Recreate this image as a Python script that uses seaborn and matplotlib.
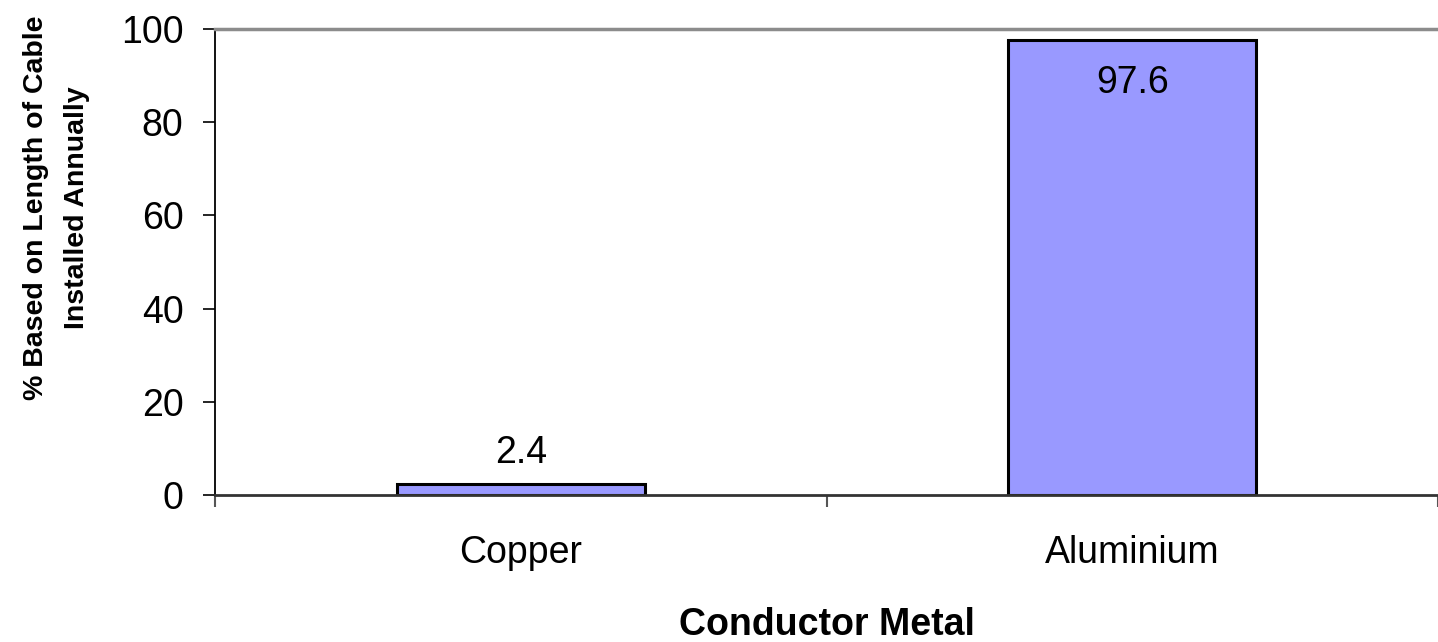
import matplotlib
matplotlib.use("Agg")
import matplotlib.pyplot as plt
from matplotlib.ticker import FixedLocator
import pandas as pd
import seaborn as sns

# Share of underground cable length installed each year, by conductor metal
metals = ["Copper", "Aluminium"]
shares = [2.4, 97.6]
y_ticks = [0, 20, 40, 60, 80, 100]

sns.set_style("white")
plt.rcParams["font.family"] = ["Liberation Sans", "DejaVu Sans"]
plt.rcParams["text.color"] = "black"
plt.rcParams["axes.labelcolor"] = "black"
plt.rcParams["xtick.color"] = "black"
plt.rcParams["ytick.color"] = "black"

df = pd.DataFrame({"metal": metals, "share": shares})

fig = plt.figure(figsize=(14.38, 6.42), dpi=100)
ax = fig.add_axes([215 / 1438, 1 - 495 / 642, 1 - 215 / 1438, (495 - 29) / 642])

sns.barplot(data=df, x="metal", y="share", ax=ax, color="#9999FF", saturation=1,
            edgecolor="black", linewidth=2.2, width=0.405, errorbar=None)

ax.set_xlim(-0.5, 1.5)
ax.set_ylim(0, 100)
ax.set_yticks(y_ticks)
ax.set_yticklabels([str(t) for t in y_ticks])

# value labels: above the short bar, just inside the top of the tall one
for i, v in enumerate(shares):
    if v > 50:
        ax.annotate(f"{v:.1f}", (i, v), xytext=(0, -38), textcoords="offset points",
                    ha="center", va="baseline", fontsize=27, color="black")
    else:
        ax.annotate(f"{v:.1f}", (i, v), xytext=(0, 15), textcoords="offset points",
                    ha="center", va="baseline", fontsize=27, color="black")

# spines
ax.spines["right"].set_visible(False)
ax.spines["left"].set_color("black")
ax.spines["left"].set_linewidth(1.3)
ax.spines["bottom"].set_color("#333333")
ax.spines["bottom"].set_linewidth(2.0)
ax.spines["top"].set_color("#8c8c8c")
ax.spines["top"].set_linewidth(2.5)

# ticks
ax.tick_params(axis="y", which="major", direction="out", length=8.6, width=1.2,
               color="black", labelcolor="black", labelsize=27, pad=14, left=True)
ax.tick_params(axis="x", which="major", length=0, labelsize=27, labelcolor="black", pad=29)
ax.xaxis.set_minor_locator(FixedLocator([-0.5, 0.5, 1.5]))
ax.tick_params(axis="x", which="minor", direction="out", length=8.6, width=1.5,
               color="#555555", bottom=True)

ax.set_xlabel("Conductor Metal", fontsize=27, fontweight="bold", color="black")
ax.xaxis.set_label_coords(0.5, -0.28)
ax.xaxis.label.set_va("center")

ax.set_ylabel("% Based on Length of Cable\nInstalled Annually", fontsize=20.5,
              fontweight="bold", color="black",
              multialignment="center", linespacing=1.75)
ax.yaxis.set_label_coords(-0.130, 0.616)
ax.yaxis.label.set_va("center")

fig.savefig("out.png", dpi=100)
